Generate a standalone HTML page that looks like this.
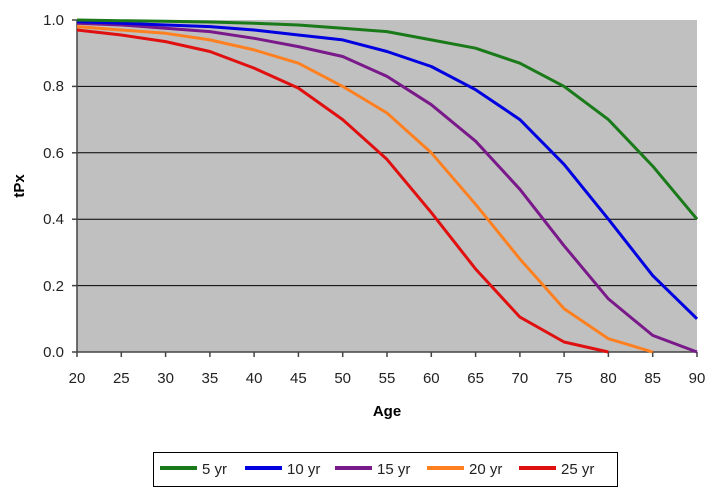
<!DOCTYPE html>
<html><head><style>body{margin:0;background:#fff}svg{display:block}</style></head><body>
<svg width="713" height="491" xmlns="http://www.w3.org/2000/svg" font-family="Liberation Sans, Arial, sans-serif">
<rect x="77" y="20" width="620" height="332" fill="#c0c0c0"/>
<g stroke="#000" stroke-width="1">
<line x1="77" y1="86.4" x2="697" y2="86.4"/><line x1="77" y1="152.8" x2="697" y2="152.8"/>
<line x1="77" y1="219.2" x2="697" y2="219.2"/><line x1="77" y1="285.6" x2="697" y2="285.6"/>
</g>
<g stroke="#444" stroke-width="1.5">
<line x1="77" y1="20" x2="77" y2="357"/><line x1="72" y1="352" x2="697" y2="352"/>
<line x1="72" y1="20" x2="77" y2="20"/><line x1="72" y1="86.4" x2="77" y2="86.4"/><line x1="72" y1="152.8" x2="77" y2="152.8"/><line x1="72" y1="219.2" x2="77" y2="219.2"/><line x1="72" y1="285.6" x2="77" y2="285.6"/>
<line x1="121.3" y1="352" x2="121.3" y2="357"/><line x1="165.6" y1="352" x2="165.6" y2="357"/><line x1="209.9" y1="352" x2="209.9" y2="357"/><line x1="254.1" y1="352" x2="254.1" y2="357"/><line x1="298.4" y1="352" x2="298.4" y2="357"/><line x1="342.7" y1="352" x2="342.7" y2="357"/><line x1="387" y1="352" x2="387" y2="357"/><line x1="431.3" y1="352" x2="431.3" y2="357"/><line x1="475.6" y1="352" x2="475.6" y2="357"/><line x1="519.9" y1="352" x2="519.9" y2="357"/><line x1="564.1" y1="352" x2="564.1" y2="357"/><line x1="608.4" y1="352" x2="608.4" y2="357"/><line x1="652.7" y1="352" x2="652.7" y2="357"/><line x1="697" y1="352" x2="697" y2="357"/>
</g>
<g font-size="15" fill="#222" text-anchor="end">
<text x="64" y="25">1.0</text><text x="64" y="91">0.8</text><text x="64" y="158">0.6</text><text x="64" y="224">0.4</text><text x="64" y="291">0.2</text><text x="64" y="357">0.0</text>
</g>
<g font-size="15" fill="#222" text-anchor="middle">
<text x="77" y="383">20</text><text x="121.3" y="383">25</text><text x="165.6" y="383">30</text><text x="209.9" y="383">35</text><text x="254.1" y="383">40</text><text x="298.4" y="383">45</text><text x="342.7" y="383">50</text><text x="387" y="383">55</text><text x="431.3" y="383">60</text><text x="475.6" y="383">65</text><text x="519.9" y="383">70</text><text x="564.1" y="383">75</text><text x="608.4" y="383">80</text><text x="652.7" y="383">85</text><text x="697" y="383">90</text>
</g>
<text x="387" y="416" font-size="15" font-weight="bold" text-anchor="middle">Age</text>
<text transform="translate(24,186) rotate(-90)" font-size="15" font-weight="bold" text-anchor="middle">tPx</text>
<g fill="none" stroke-width="3" stroke-linejoin="round">
<polyline stroke="#e01010" points="77,30 121.3,35 165.6,41.6 209.9,51.5 254.1,68.1 298.4,88.1 342.7,119.6 387,159.4 431.3,212.6 475.6,269 519.9,317.1 564.1,342 608.4,352"/>
<polyline stroke="#ff8020" points="77,26.6 121.3,30 165.6,33.3 209.9,39.9 254.1,49.9 298.4,63.2 342.7,86.4 387,113 431.3,152.8 475.6,204.3 519.9,259 564.1,308.8 608.4,338.7 652.7,352"/>
<polyline stroke="#7a1a8a" points="77,23.3 121.3,25 165.6,28.3 209.9,31.6 254.1,38.3 298.4,46.6 342.7,56.5 387,76.4 431.3,104.7 475.6,141.2 519.9,189.3 564.1,245.8 608.4,298.9 652.7,335.4 697,352"/>
<polyline stroke="#0000e0" points="77,21.7 121.3,23.3 165.6,25 209.9,26.6 254.1,30 298.4,35 342.7,39.9 387,51.5 431.3,66.5 475.6,89.7 519.9,119.6 564.1,164.4 608.4,219.2 652.7,275.6 697,318.8"/>
<polyline stroke="#1a7a1a" points="77,20 121.3,20.7 165.6,21.3 209.9,22 254.1,23.3 298.4,25 342.7,28.3 387,31.6 431.3,39.9 475.6,48.2 519.9,63.2 564.1,86.4 608.4,119.6 652.7,166.1 697,219.2"/>
</g>
<rect x="153.5" y="452.5" width="464" height="34" fill="#fff" stroke="#000"/>
<g stroke-width="4">
<line x1="160" y1="468" x2="197" y2="468" stroke="#1a7a1a"/>
<line x1="245" y1="468" x2="282" y2="468" stroke="#0000e0"/>
<line x1="335" y1="468" x2="372" y2="468" stroke="#7a1a8a"/>
<line x1="427" y1="468" x2="464" y2="468" stroke="#ff8020"/>
<line x1="519" y1="468" x2="556" y2="468" stroke="#e01010"/>
</g>
<g font-size="15" fill="#222">
<text x="202" y="474">5 yr</text><text x="287" y="474">10 yr</text><text x="377" y="474">15 yr</text><text x="469" y="474">20 yr</text><text x="561" y="474">25 yr</text>
</g>
</svg>
</body></html>
